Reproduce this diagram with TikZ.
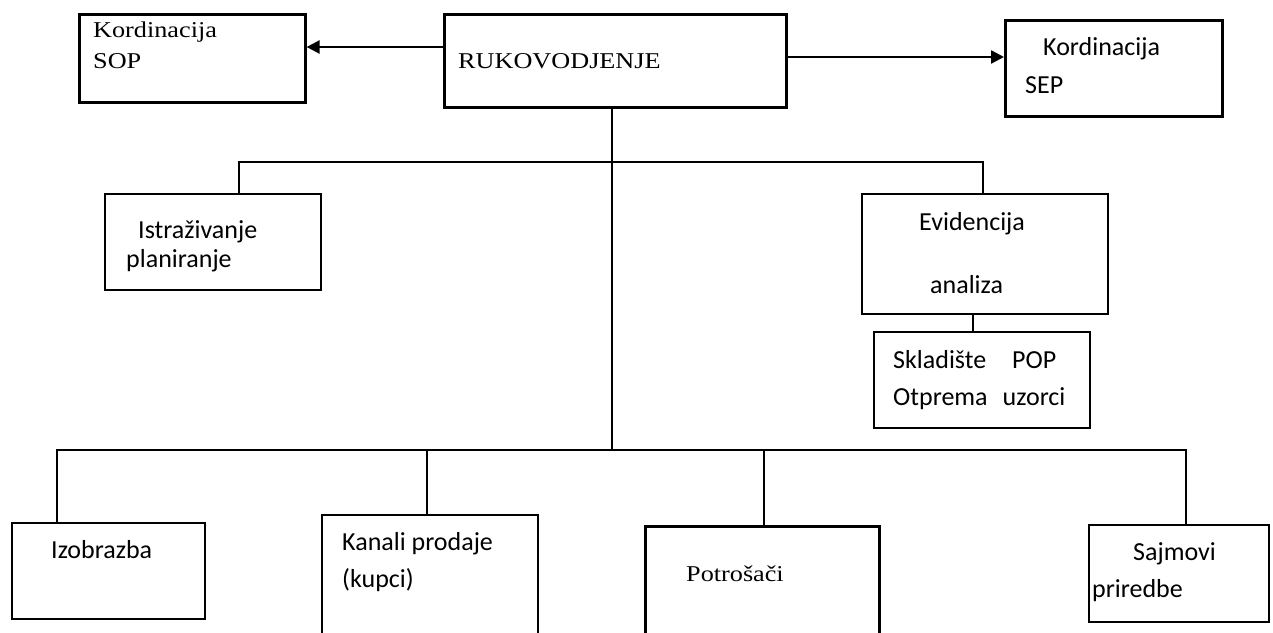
\documentclass[tikz,border=0pt]{standalone}
\usepackage{fontspec}
\setmainfont{Carlito}
\newfontfamily\tnr[FakeStretch=1.16]{Liberation Serif}
\usetikzlibrary{arrows.meta}
\tikzset{
  box/.style={draw, line width=2pt, inner sep=0pt, anchor=north west},
  thickbox/.style={box, line width=2.6pt},
  link/.style={line width=1.6pt},
  arrowlink/.style={line width=2.4pt, -{Triangle[length=13pt,width=13pt]}},
  ser/.style={anchor=base west, inner sep=0pt, font=\tnr\fontsize{22.6}{26}\selectfont},
  cal/.style={anchor=base west, inner sep=0pt, font=\fontsize{26}{30}\selectfont},
}
\begin{document}
\begin{tikzpicture}[x=1pt,y=-1pt]
\useasboundingbox (0,0) rectangle (1273,632);
% boxes
\node[thickbox, minimum width=226pt, minimum height=88pt] (sop) at (78,13) {};
\node[thickbox, minimum width=342pt, minimum height=93pt] (ruk) at (443,13) {};
\node[thickbox, minimum width=217pt, minimum height=96pt] (sep) at (1004,19) {};
\node[box, minimum width=216pt, minimum height=96pt] (ist) at (104,193) {};
\node[box, minimum width=246pt, minimum height=120pt] (evi) at (861,193) {};
\node[box, minimum width=216pt, minimum height=96pt] (skl) at (873,331) {};
\node[box, minimum width=193pt, minimum height=96pt] (izo) at (11,522) {};
\node[box, minimum width=216pt, minimum height=130pt] (kan) at (321,514) {};
\node[thickbox, minimum width=234pt, minimum height=120pt] (pot) at (644,525) {};
\node[box, minimum width=180pt, minimum height=97pt] (saj) at (1088,524) {};
% junction coordinates
\coordinate (j1) at (612,162);
\coordinate (j2) at (612,450);
% texts
\node[ser] (t1) at (93,37) {Kordinacija};
\node[ser] (t2) at (93,68) {SOP};
\node[ser] (t3) at (458,68) {RUKOVODJENJE};
\node[cal] (t4) at (1043,55) {Kordinacija};
\node[cal] (t5) at (1025,93) {SEP};
\node[cal] (t6) at (138,238) {Istraživanje};
\node[cal] (t7) at (126,267) {planiranje};
\node[cal] (t8) at (919,230) {Evidencija};
\node[cal] (t9) at (930,293) {analiza};
\node[cal] (t10) at (893,368) {Skladište\hspace{26pt}POP};
\node[cal] (t11) at (893,405) {Otprema\hspace{15pt}uzorci};
\node[cal] (t12) at (51,558) {Izobrazba};
\node[cal] (t13) at (342,550) {Kanali prodaje};
\node[cal] (t14) at (342,587) {(kupci)};
\node[ser] (t15) at (686,581) {Potrošači};
\node[cal] (t16) at (1133,560) {Sajmovi};
\node[cal] (t17) at (1092,597) {priredbe};
% arrows
\draw[arrowlink] (ruk.west |- 0,47) -- (sop.east |- 0,47);
\draw[arrowlink] (ruk.east |- 0,57) -- (sep.west |- 0,57);
% tree
\draw[link] (ruk.south -| j1) -- (j2);
\draw[link] (ist.north -| 239,0) |- (j1) -| (evi.north -| 983,0);
\draw[link] (evi.south -| 973,0) -- (skl.north -| 973,0);
\draw[link] (izo.north -| 57,0) |- (j2) -| (saj.north -| 1186,0);
\draw[link] (kan.north -| 427,0) -- (427,450);
\draw[link] (pot.north -| 764,0) -- (764,450);
\end{tikzpicture}
\end{document}
